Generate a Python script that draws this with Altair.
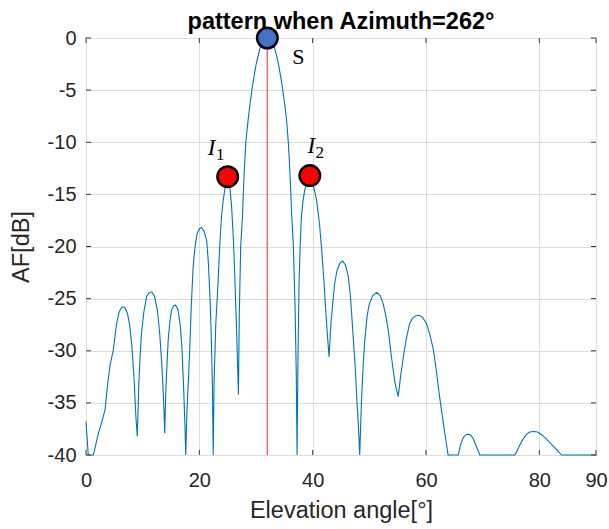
import altair as alt
import pandas as pd

# Array-factor pattern (dB) along elevation, azimuth fixed at 262 deg
elevation = [
    0.0, 0.4, 1.3, 2.2, 2.8, 3.35, 3.9,
    4.3, 4.8, 5.4, 5.8, 6.1, 6.47, 6.9, 7.3, 7.7, 8.1, 8.5, 8.8, 9.05,
    9.3, 9.55, 9.8, 10.2, 10.7, 11.1, 11.6, 12.1, 12.6, 13.0, 13.4, 13.7, 13.9,
    14.1, 14.5, 14.8, 15.1, 15.45, 15.8, 16.2, 16.6, 16.9, 17.2, 17.45, 17.6,
    17.8, 18.1, 18.3, 18.6, 18.9, 19.2, 19.6, 20.0, 20.4, 20.8, 21.3, 21.6, 21.9, 22.1, 22.3, 22.45,
    22.6, 22.9, 23.3, 23.6, 23.9, 24.2, 24.6, 25.0, 25.4, 25.7, 26.0, 26.3, 26.6, 26.9,
    27.05, 27.3, 27.6, 27.9, 28.2, 28.6, 28.95, 29.3, 29.65, 30.0, 30.35, 30.7, 31.0, 31.3, 31.65, 32.0,
    32.35, 32.7, 33.0, 33.3, 33.65, 34.0, 34.35, 34.7, 35.05, 35.4, 35.7, 36.0, 36.3, 36.6, 36.9, 37.1, 37.25,
    37.4, 37.6, 37.8, 38.0, 38.3, 38.6, 39.0, 39.5, 40.0, 40.4, 40.7, 41.2, 41.6, 42.0, 42.3, 42.6, 42.9,
    43.2, 43.6, 43.9, 44.3, 44.8, 45.3, 45.8, 46.3, 46.7, 47.1, 47.5, 47.8, 48.1, 48.3,
    48.6, 48.9, 49.2, 49.6, 50.0, 50.6, 51.3, 51.9, 52.4, 52.9, 53.4, 53.9, 54.5, 55.1,
    55.5, 56.0, 56.5, 57.1, 57.6, 58.2, 58.8, 59.4, 60.1, 60.7, 61.3, 61.8, 62.3, 62.7, 63.3, 63.9,
    65.7, 66.1, 66.6, 67.1, 67.5, 67.9, 68.3, 68.9, 69.5,
    75.7, 76.4, 77.1, 77.7, 78.3, 79.0, 79.7, 80.4, 81.3, 82.2, 83.1, 83.9, 90.0,
]
af_db = [
    -36.8, -40.0, -40.0, -37.9, -36.8, -35.7, -32.8,
    -31.2, -30.0, -27.4, -26.4, -26.0, -25.8, -25.9, -26.4, -27.5, -29.6, -32.8, -36.3, -38.2,
    -33.5, -30.5, -28.3, -26.3, -24.8, -24.45, -24.35, -24.8, -26.1, -28.3, -31.5, -34.8, -37.9,
    -33.5, -29.0, -27.2, -26.1, -25.7, -25.6, -26.0, -27.4, -29.5, -33.1, -37.0, -40.0,
    -36.0, -32.5, -29.9, -25.5, -22.0, -20.2, -18.8, -18.3, -18.2, -18.5, -19.4, -21.6, -25.1, -28.5, -33.1, -40.0,
    -33.0, -27.5, -23.5, -20.0, -17.2, -15.6, -14.2, -13.6, -14.4, -16.2, -19.2, -23.5, -28.5, -34.2,
    -26.6, -20.0, -17.3, -13.0, -10.0, -7.9, -6.3, -4.9, -3.7, -2.6, -1.75, -1.0, -0.55, -0.25, -0.06, 0.0,
    -0.06, -0.25, -0.55, -1.0, -1.75, -2.6, -3.7, -4.9, -6.3, -7.9, -10.0, -13.0, -17.0, -20.0, -26.0, -32.0, -40.0,
    -31.0, -23.5, -19.8, -17.2, -15.6, -14.6, -13.8, -13.5, -13.9, -14.8, -15.6, -17.8, -20.4, -23.4, -26.1, -28.5, -30.6,
    -27.5, -25.1, -23.5, -22.3, -21.6, -21.4, -21.8, -22.9, -25.0, -28.3, -31.5, -34.7, -37.5, -40.0,
    -35.0, -31.5, -29.0, -26.7, -25.5, -24.7, -24.4, -24.7, -25.4, -26.6, -28.3, -30.6, -33.0, -34.4,
    -32.5, -30.6, -28.9, -27.4, -26.9, -26.65, -26.6, -26.8, -27.4, -28.5, -29.9, -31.8, -34.0, -35.6, -37.8, -40.0,
    -40.0, -39.0, -38.3, -38.05, -38.0, -38.1, -38.4, -39.2, -40.0,
    -40.0, -39.2, -38.5, -38.05, -37.8, -37.75, -37.8, -38.05, -38.5, -39.0, -39.5, -40.0, -40.0,
]

# Steering direction (main beam) and the two first sidelobes
steer_elev = [32.0]
steer_af = [0.0]
side_elev = [25.0, 39.5]
side_af = [-13.3, -13.2]

x_ticks = [0, 20, 40, 60, 80, 90]
y_ticks = [0, -5, -10, -15, -20, -25, -30, -35, -40]

W, H = 510, 417
AXIS_COLOR = "#3a3a3a"
TEXT_COLOR = "#262626"
FONT = "Liberation Sans"
SERIF = "Liberation Serif"

curve = pd.DataFrame({"elev": elevation, "af": af_db})
steer = pd.DataFrame({"elev": steer_elev, "af": steer_af, "af_low": [-40.0]})
sides = pd.DataFrame({"elev": side_elev, "af": side_af})
xt = pd.DataFrame({"elev": x_ticks})
yt = pd.DataFrame({"af": y_ticks})

x_scale = alt.Scale(domain=[0, 90], nice=False, zero=False)
y_scale = alt.Scale(domain=[-40, 0], nice=False, zero=False)

x_axis = alt.Axis(
    values=x_ticks, title="Elevation angle[°]", grid=True, ticks=False, tickSize=0,
    domain=False, labelFlush=False, labelOverlap=False, labelPadding=15,
    titlePadding=8, labelExpr="'' + datum.value",
)
y_axis = alt.Axis(
    values=y_ticks, title="AF[dB]", grid=True, ticks=False, tickSize=0,
    domain=False, labelFlush=False, labelOverlap=False, labelPadding=10,
    titlePadding=14, labelExpr="'' + datum.value",
)

line = alt.Chart(curve).mark_line(color="#0072BD", strokeWidth=1.1).encode(
    x=alt.X("elev:Q", scale=x_scale, axis=x_axis),
    y=alt.Y("af:Q", scale=y_scale, axis=y_axis),
)

steer_rule = alt.Chart(steer).mark_rule(color="#f06a6a", strokeWidth=1.5).encode(
    x="elev:Q", y="af:Q", y2="af_low:Q"
)

# inward tick marks on all four sides of the box
tick_style = dict(color=AXIS_COLOR, strokeWidth=1)
left_ticks = alt.Chart(yt).mark_rule(**tick_style).encode(
    y="af:Q", x=alt.value(0), x2=alt.value(5))
right_ticks = alt.Chart(yt).mark_rule(**tick_style).encode(
    y="af:Q", x=alt.value(W - 5), x2=alt.value(W))
bottom_ticks = alt.Chart(xt).mark_rule(**tick_style).encode(
    x="elev:Q", y=alt.value(H - 5), y2=alt.value(H))
top_ticks = alt.Chart(xt).mark_rule(**tick_style).encode(
    x="elev:Q", y=alt.value(0), y2=alt.value(5))

marker_style = dict(size=420, stroke="black", strokeWidth=2.5, opacity=1)
steer_pt = alt.Chart(steer).mark_circle(fill="#4472C4", **marker_style).encode(
    x="elev:Q", y="af:Q")
side_pts = alt.Chart(sides).mark_circle(fill="#FF0000", **marker_style).encode(
    x="elev:Q", y="af:Q")

s_label = alt.Chart(steer).mark_text(
    text="S", font=SERIF, fontSize=22, color="black", align="center",
    baseline="alphabetic", dx=31, dy=26,
).encode(x="elev:Q", y="af:Q")


def lobe_label(i, sub, dx, dy):
    row = sides.iloc[[i]]
    big = alt.Chart(row).mark_text(
        text="I", font=SERIF, fontSize=23, fontStyle="italic", color="black",
        align="center", baseline="alphabetic", dx=dx, dy=dy,
    ).encode(x="elev:Q", y="af:Q")
    small = alt.Chart(row).mark_text(
        text=sub, font=SERIF, fontSize=17, color="black",
        align="center", baseline="alphabetic", dx=dx + 8.5, dy=dy + 5,
    ).encode(x="elev:Q", y="af:Q")
    return big + small


# chart heading, placed just above the plot box
heading = alt.Chart(steer).mark_text(
    text="pattern when Azimuth=262°", font=FONT, fontSize=23.5, fontWeight="bold",
    color="black", align="center", baseline="alphabetic",
).encode(x=alt.value(W / 2), y=alt.value(-9.5))

chart = alt.layer(
    line, steer_rule, left_ticks, right_ticks, bottom_ticks, top_ticks,
    steer_pt, side_pts, s_label,
    lobe_label(0, "1", -16, -22), lobe_label(1, "2", 1.5, -23),
    heading,
).properties(
    width=W, height=H,
    autosize=alt.AutoSizeParams(type="none"),
    padding={"left": 86, "top": 38, "right": 13, "bottom": 74},
).configure_axis(
    labelFont=FONT, labelFontSize=20, labelColor=TEXT_COLOR,
    titleFont=FONT, titleFontSize=23.5, titleFontWeight="normal", titleColor=TEXT_COLOR,
    gridColor="#dcdcdc", gridWidth=1,
).configure_view(
    stroke=AXIS_COLOR, strokeWidth=1,
)

chart.save("out.html", embed_options={"renderer": "svg", "actions": False})
